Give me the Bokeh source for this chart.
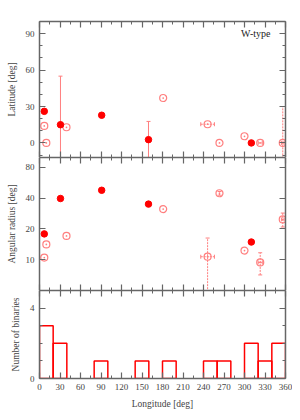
import math
from bokeh.plotting import figure
from bokeh.layouts import column
from bokeh.models import (LinearAxis, LogAxis, FixedTicker, Range1d, Label,
                          ColumnDataSource, BasicTickFormatter)
from bokeh.embed import file_html
from bokeh.resources import INLINE

# ---------------- data ----------------
# filled (solid) systems
lon_full = [7, 30.7, 91, 159.5, 310]
lat_full = [26, 15, 22.8, 2.7, 0]
lat_err_full = [0, 40, 0, 15, 0]
rad_full = [17.9, 39.7, 47.8, 35, 14.9]

# open systems
lon_open = [7, 10, 39.5, 181, 246, 263.4, 300, 323, 356]
lat_open = [14, 0, 12.9, 37, 15.4, 0, 5.5, 0, 0]
lon_err_open = [0, 0, 0, 0, 10, 0, 0, 3, 2]
lat_err_open = [0, 0, 0, 0, 0, 0, 0, 0, 30]
rad_open = [10.5, 14.1, 17.1, 31.3, 10.7, 44.7, 12.3, 9.4, 24.8]
rad_hi_open = [0, 0, 0, 0, 16.3, 46.5, 0, 11.7, 28.6]
rad_lo_open = [0, 0, 0, 0, 3.0, 42.8, 0, 7.1, 20.9]

# histogram of longitudes (20 deg bins)
bin_left = [0, 20, 40, 60, 80, 100, 120, 140, 160, 180, 200, 220, 240, 260, 280, 300, 320, 340]
bin_count = [3, 2, 0, 0, 1, 0, 0, 1, 0, 1, 0, 0, 1, 1, 0, 2, 1, 2]
bin_width = 20

x_ticks = [0, 30, 60, 90, 120, 150, 180, 210, 240, 270, 300, 330, 360]
x_minor = [15, 45, 75, 105, 135, 165, 195, 225, 255, 285, 315, 345]
lat_ticks = [0, 30, 60, 90]
lat_minor = [-10, 10, 20, 40, 50, 70, 80, 100]
rad_ticks = [10, 20, 40, 80]
n_ticks = [0, 4]
n_minor = [1, 2, 3, 5]

# ---------------- style ----------------
RED = "#ff0000"
PINK = "#ff7f7f"
AX = "#666666"
TXT = "#444444"
FONT = "Liberation Serif"
W = 292
BL, BR = 39, 7


def style(ax, labels=True, title=None, ticks=None, minor=None):
    ax.axis_line_color = AX
    ax.axis_line_width = 1.5
    ax.major_tick_line_color = AX
    ax.minor_tick_line_color = AX
    ax.major_tick_line_width = 1.2
    ax.minor_tick_line_width = 1
    ax.major_tick_in = 6
    ax.major_tick_out = 0
    ax.minor_tick_in = 3
    ax.minor_tick_out = 0
    ax.major_label_text_font = FONT
    if ticks is not None:
        ax.ticker = FixedTicker(ticks=ticks, minor_ticks=minor or [])
    if labels:
        ax.major_label_text_color = TXT
        ax.major_label_text_font_size = "9px"
        ax.major_label_standoff = 5
    else:
        ax.major_label_text_color = None
        ax.major_label_text_font_size = "0px"
        ax.major_label_standoff = 0
    if title:
        ax.axis_label = title
        ax.axis_label_text_font = FONT
        ax.axis_label_text_font_size = "9.5px"
        ax.axis_label_text_font_style = "normal"
        ax.axis_label_text_color = TXT
        ax.axis_label_standoff = 6
    return ax


def base(height, ytype, yr, top, bottom):
    p = figure(width=W, height=height, x_range=Range1d(0, 360), y_range=yr,
               y_axis_type=ytype, x_axis_location=None, y_axis_location=None,
               output_backend="svg", toolbar_location=None,
               min_border_left=BL, min_border_right=BR,
               min_border_top=top, min_border_bottom=bottom)
    p.xgrid.visible = False
    p.ygrid.visible = False
    p.outline_line_color = None
    p.background_fill_color = "white"
    p.border_fill_color = "white"
    return p


def add_frame(p, log, yt, ym, ylabel, xlabels=False, xlabel=None):
    YA = LogAxis if log else LinearAxis
    left = style(YA(), True, ylabel, yt, ym)
    if log:
        left.formatter = BasicTickFormatter()
    p.add_layout(left, "left")
    p.add_layout(style(YA(), False, None, yt, ym), "right")
    p.add_layout(style(LinearAxis(), xlabels, xlabel, x_ticks, x_minor), "below")
    p.add_layout(style(LinearAxis(), False, None, x_ticks, x_minor), "above")


def pick(cond, *arrs):
    return [[a[i] for i in range(len(cond)) if cond[i]] for a in arrs]


# ---------------- panel 1: latitude ----------------
p1 = base(157, "linear", Range1d(-12, 100), 21, 0)
add_frame(p1, False, lat_ticks, lat_minor, "Latitude [deg]")

# error bars solid (filled)
xs, ys, es = pick([e > 0 for e in lat_err_full], lon_full, lat_full, lat_err_full)
lo = [y - e for y, e in zip(ys, es)]
hi = [y + e for y, e in zip(ys, es)]
p1.segment(x0=xs, y0=lo, x1=xs, y1=hi, line_color=PINK, line_width=1)
p1.scatter(x=xs + xs, y=lo + hi, marker="dash", size=4, line_color=PINK)

# error bars dotted (open) in latitude
xs, ys, es = pick([e > 0 for e in lat_err_open], lon_open, lat_open, lat_err_open)
lo = [y - e for y, e in zip(ys, es)]
hi = [y + e for y, e in zip(ys, es)]
p1.segment(x0=xs, y0=lo, x1=xs, y1=hi, line_color=PINK, line_width=1, line_dash="2 1")
p1.scatter(x=xs + xs, y=lo + hi, marker="dash", size=4, line_color=PINK)
# longitude error bars
xs, ys, es = pick([e > 0 for e in lon_err_open], lon_open, lat_open, lon_err_open)
lx = [x - e for x, e in zip(xs, es)]
hx = [x + e for x, e in zip(xs, es)]
p1.segment(x0=lx, y0=ys, x1=hx, y1=ys, line_color=PINK, line_width=1, line_dash="2 1")
p1.scatter(x=lx + hx, y=ys + ys, marker="dash", angle=math.pi / 2, size=4, line_color=PINK)

p1.scatter(x=lon_open, y=lat_open, marker="circle_dot", size=7, fill_color=None,
           line_color=PINK, line_width=1.2)
p1.scatter(x=lon_full, y=lat_full, marker="circle", size=6.5, fill_color=RED, line_color=RED)
p1.add_layout(Label(x=338, y=90.5, text="W-type", text_align="right", text_baseline="middle",
                    text_font=FONT, text_font_size="10px", text_color="#222222"))

# ---------------- panel 2: angular radius ----------------
p2 = base(133, "log", Range1d(5, 100), 0, 0)
add_frame(p2, True, rad_ticks, [], "Angular radius [deg]")

xs, ys, l2, h2 = pick([h > 0 for h in rad_hi_open], lon_open, rad_open, rad_lo_open, rad_hi_open)
p2.segment(x0=xs, y0=l2, x1=xs, y1=h2, line_color=PINK, line_width=1, line_dash="2 1")
p2.scatter(x=xs + xs, y=l2 + h2, marker="dash", size=4, line_color=PINK)
xs, ys, es = pick([e > 0 for e in lon_err_open], lon_open, rad_open, lon_err_open)
lx = [x - e for x, e in zip(xs, es)]
hx = [x + e for x, e in zip(xs, es)]
p2.segment(x0=lx, y0=ys, x1=hx, y1=ys, line_color=PINK, line_width=1, line_dash="2 1")
p2.scatter(x=lx + hx, y=ys + ys, marker="dash", angle=math.pi / 2, size=4, line_color=PINK)

p2.scatter(x=lon_open, y=rad_open, marker="circle_dot", size=7, fill_color=None,
           line_color=PINK, line_width=1.2)
p2.scatter(x=lon_full, y=rad_full, marker="circle", size=6.5, fill_color=RED, line_color=RED)

# ---------------- panel 3: histogram ----------------
p3 = base(128, "linear", Range1d(0, 5), 0, 40)
add_frame(p3, False, n_ticks, n_minor, "Number of binaries", True, "Longitude [deg]")
bl, bc = pick([c > 0 for c in bin_count], bin_left, bin_count)
src = ColumnDataSource(dict(left=bl, right=[b + bin_width for b in bl], top=bc,
                            bottom=[0] * len(bl)))
p3.quad(left="left", right="right", top="top", bottom="bottom", source=src,
        fill_color=None, line_color=RED, line_width=1.5)

layout = column(p1, p2, p3, spacing=0)
open("out.html", "w").write(file_html(layout, INLINE))
